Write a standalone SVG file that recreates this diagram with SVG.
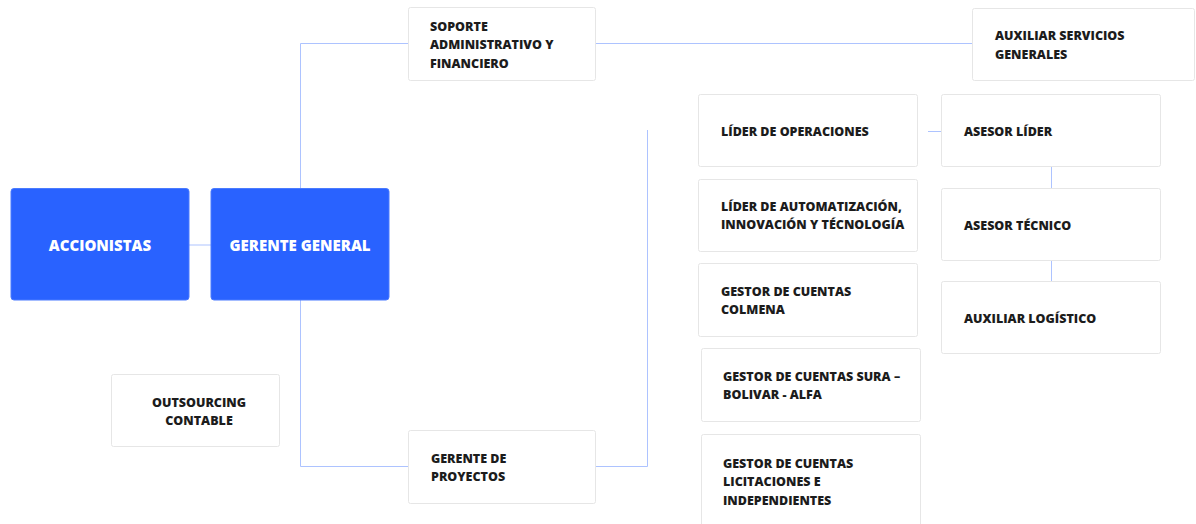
<svg xmlns="http://www.w3.org/2000/svg" width="1196" height="524" viewBox="0 0 1196 524">
  <style>
    .card { fill: #ffffff; stroke: #e6e6e6; stroke-width: 1; }
    .main { fill: #2962ff; stroke: #4a7bff; stroke-width: 1; }
    .lbl { font-family: "Open Sans", "Liberation Sans", sans-serif; font-weight: 800; font-size: 12.5px; fill: #1c1c1c; }
    .mlbl { font-family: "Open Sans", "Liberation Sans", sans-serif; font-weight: 800; font-size: 15px; fill: #ffffff; }
    .link { fill: none; stroke: #adc3ff; stroke-width: 1; }
  </style>

  <rect width="1196" height="524" fill="#ffffff"/>

  <!-- connectors -->
  <g id="connectors">
    <line class="link" x1="189" y1="245" x2="211" y2="245"/>
    <polyline class="link" points="300.5,188 300.5,43.5 408,43.5"/>
    <polyline class="link" points="300.5,300 300.5,466.5 408,466.5"/>
    <line class="link" x1="596" y1="43.5" x2="972" y2="43.5"/>
    <polyline class="link" points="596,466.5 647.5,466.5 647.5,130"/>
    <line class="link" x1="928" y1="131.5" x2="941" y2="131.5"/>
    <line class="link" x1="1051.5" y1="167" x2="1051.5" y2="188"/>
    <line class="link" x1="1051.5" y1="261" x2="1051.5" y2="281"/>
  </g>

  <g id="accionistas">
    <rect class="main" x="11" y="188.5" width="178" height="111.5" rx="3"/>
    <text class="mlbl" x="100" y="250.5" text-anchor="middle">ACCIONISTAS</text>
  </g>

  <g id="gerente-general">
    <rect class="main" x="211" y="188.5" width="178" height="111.5" rx="3"/>
    <text class="mlbl" x="300" y="250.5" text-anchor="middle">GERENTE GENERAL</text>
  </g>

  <g id="soporte">
    <rect class="card" x="408.5" y="7.5" width="187" height="73" rx="2"/>
    <text class="lbl" x="430" y="30.5">SOPORTE</text>
    <text class="lbl" x="430" y="49">ADMINISTRATIVO Y</text>
    <text class="lbl" x="430" y="67.5">FINANCIERO</text>
  </g>

  <g id="auxiliar-servicios">
    <rect class="card" x="972.5" y="8.5" width="222" height="72" rx="2"/>
    <text class="lbl" x="995" y="40">AUXILIAR SERVICIOS</text>
    <text class="lbl" x="995" y="58.5">GENERALES</text>
  </g>

  <g id="lider-operaciones">
    <rect class="card" x="698.5" y="94.5" width="219" height="72" rx="2"/>
    <text class="lbl" x="721" y="135.5">LÍDER DE OPERACIONES</text>
  </g>

  <g id="asesor-lider">
    <rect class="card" x="941.5" y="94.5" width="219" height="72" rx="2"/>
    <text class="lbl" x="964" y="136">ASESOR LÍDER</text>
  </g>

  <g id="lider-automatizacion">
    <rect class="card" x="698.5" y="179.5" width="219" height="72" rx="2"/>
    <text class="lbl" x="721" y="211">LÍDER DE AUTOMATIZACIÓN,</text>
    <text class="lbl" x="721" y="229">INNOVACIÓN Y TÉCNOLOGÍA</text>
  </g>

  <g id="asesor-tecnico">
    <rect class="card" x="941.5" y="188.5" width="219" height="72" rx="2"/>
    <text class="lbl" x="964" y="229.5">ASESOR TÉCNICO</text>
  </g>

  <g id="gestor-colmena">
    <rect class="card" x="698.5" y="263.5" width="219" height="73" rx="2"/>
    <text class="lbl" x="721" y="295.5">GESTOR DE CUENTAS</text>
    <text class="lbl" x="721" y="313.5">COLMENA</text>
  </g>

  <g id="auxiliar-logistico">
    <rect class="card" x="941.5" y="281.5" width="219" height="72" rx="2"/>
    <text class="lbl" x="964" y="322.5">AUXILIAR LOGÍSTICO</text>
  </g>

  <g id="gestor-sura">
    <rect class="card" x="701.5" y="348.5" width="219" height="73" rx="2"/>
    <text class="lbl" x="723" y="380.5">GESTOR DE CUENTAS SURA –</text>
    <text class="lbl" x="723" y="398.5">BOLIVAR - ALFA</text>
  </g>

  <g id="gestor-licitaciones">
    <rect class="card" x="701.5" y="434.5" width="219" height="95" rx="2"/>
    <text class="lbl" x="723" y="467.5">GESTOR DE CUENTAS</text>
    <text class="lbl" x="723" y="486">LICITACIONES E</text>
    <text class="lbl" x="723" y="504.5">INDEPENDIENTES</text>
  </g>

  <g id="outsourcing">
    <rect class="card" x="111.5" y="374.5" width="168" height="72" rx="2"/>
    <text class="lbl" x="199" y="406.5" text-anchor="middle">OUTSOURCING</text>
    <text class="lbl" x="199" y="424.5" text-anchor="middle">CONTABLE</text>
  </g>

  <g id="gerente-proyectos">
    <rect class="card" x="408.5" y="430.5" width="187" height="73" rx="2"/>
    <text class="lbl" x="431" y="462.5">GERENTE DE</text>
    <text class="lbl" x="431" y="480.5">PROYECTOS</text>
  </g>
</svg>
